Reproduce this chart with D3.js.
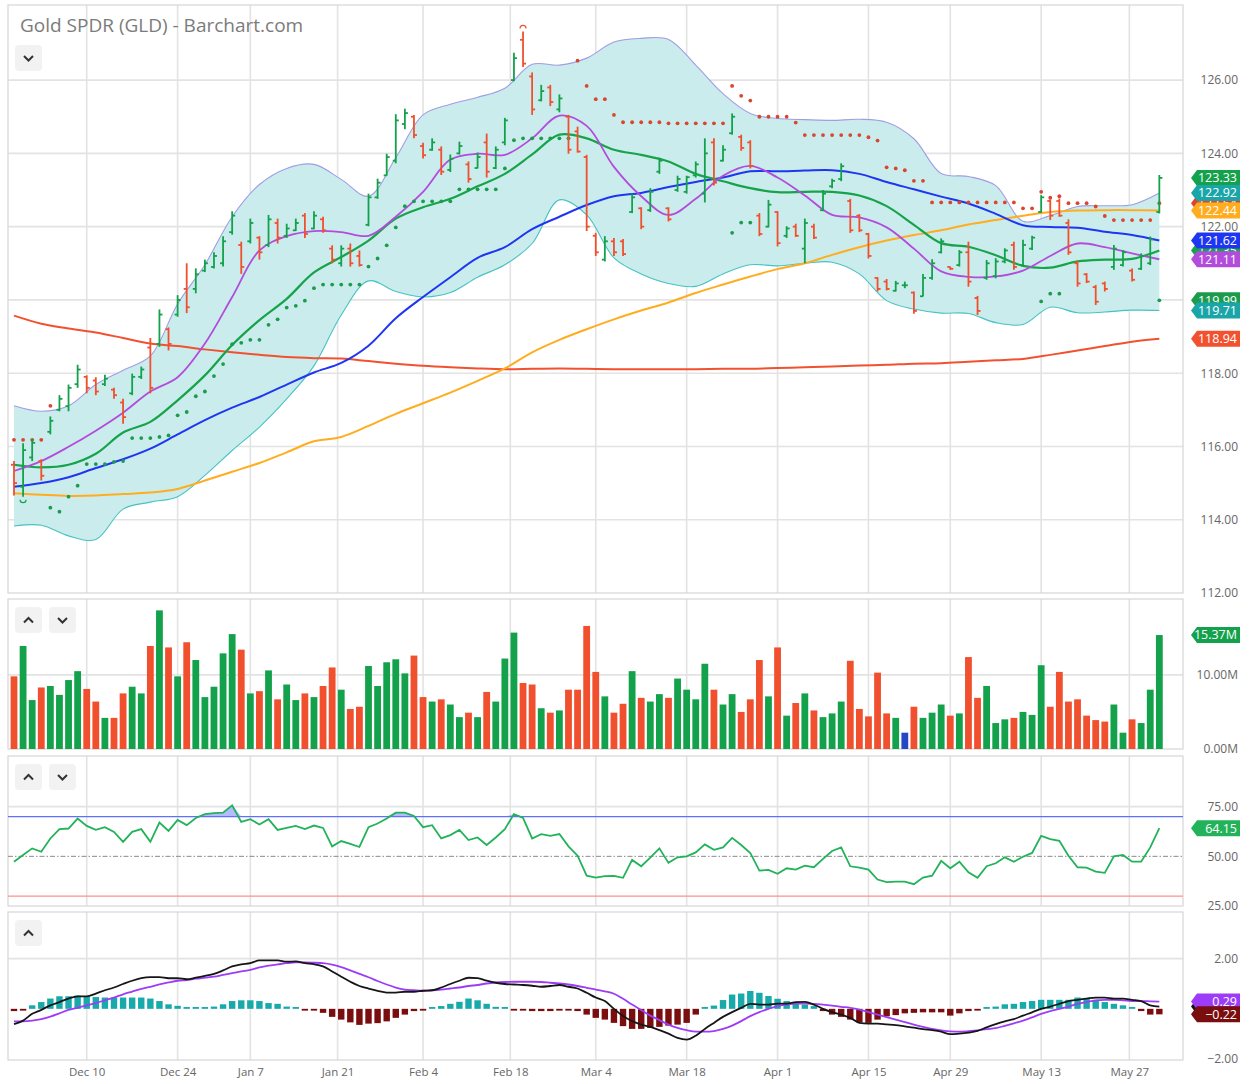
<!DOCTYPE html>
<html>
<head>
<meta charset="utf-8">
<script src="https://cdn.jsdelivr.net/npm/d3@7"></script>
<style>
  body { margin: 0; background: #fff; }
  svg { font-family: "Open Sans", "Noto Sans", sans-serif; }
</style>
</head>
<body>
<svg id="chart" width="1250" height="1084"></svg>
<script>

// ---------- DATA (one entry per trading day) ----------
const tickIdx    = [8, 18, 26, 35.6, 45, 54.6, 64, 74, 84, 94, 103, 113, 122.7];
const tickLabels = ['Dec 10','Dec 24','Jan 7','Jan 21','Feb 4','Feb 18','Mar 4','Mar 18','Apr 1','Apr 15','Apr 29','May 13','May 27'];

const opens = [115.50,114.90,115.70,115.60,116.40,117.00,117.10,117.70,117.90,117.80,
  117.70,117.55,117.20,117.45,117.90,118.70,118.80,119.20,119.60,120.30,
  120.30,120.80,120.90,121.00,121.85,121.50,121.60,121.70,121.50,122.10,
  121.75,121.90,122.30,121.95,122.20,121.40,121.00,121.40,121.20,122.05,
  122.80,123.40,123.80,124.80,125.00,124.20,124.10,124.10,123.55,124.00,
  123.70,123.60,124.30,123.60,124.30,126.00,127.10,126.10,125.45,125.80,
  125.20,125.00,124.60,123.90,121.75,121.10,121.60,121.60,122.40,122.50,
  122.45,123.50,122.50,123.00,122.95,123.40,122.90,124.30,123.80,124.55,
  124.45,124.30,122.30,122.00,122.40,121.75,122.00,121.40,122.00,122.45,
  123.10,123.30,122.70,122.30,121.80,120.60,120.50,120.25,120.40,120.20,
  120.10,120.60,121.30,120.90,120.95,121.30,120.05,120.60,120.65,121.05,
  121.50,120.95,121.40,122.40,122.70,122.70,122.10,121.00,120.70,120.35,
  120.45,120.90,120.95,120.80,120.85,121.00,122.40];
const highs = [115.60,116.09,116.20,115.65,116.82,117.40,117.69,118.23,117.94,117.89,
  117.96,117.60,117.30,117.99,118.18,118.96,119.74,119.25,120.13,121.00,
  120.86,121.10,121.30,121.74,122.42,121.59,122.22,121.74,122.32,122.22,
  122.08,122.22,122.37,122.42,122.27,121.49,121.49,121.54,121.35,122.90,
  123.31,123.99,125.07,125.22,125.05,124.29,124.41,124.19,123.97,124.32,
  123.78,124.02,124.54,124.19,124.97,126.75,127.33,126.21,125.87,125.87,
  125.61,125.05,124.73,123.96,121.83,121.74,121.69,121.66,122.90,122.53,
  123.05,123.88,122.53,123.39,123.39,123.78,124.41,124.41,124.22,125.09,
  124.51,124.36,122.37,122.73,122.42,122.01,122.08,122.22,122.08,123.00,
  123.31,123.73,122.76,122.34,121.83,120.62,120.57,120.52,120.50,120.23,
  120.71,121.11,121.68,120.91,121.36,121.59,120.11,121.09,121.14,121.41,
  121.59,121.64,121.75,122.86,122.75,122.77,122.20,121.07,120.73,120.41,
  120.50,121.50,121.36,120.86,121.27,121.73,123.41];
const lows = [114.66,114.63,115.60,115.07,116.33,116.96,116.96,117.60,117.45,117.40,
  117.65,117.30,116.62,117.40,117.84,117.45,118.72,118.62,119.54,119.64,
  120.18,120.76,120.86,120.91,121.78,120.71,121.54,121.10,121.44,121.54,
  121.69,121.88,121.69,121.93,121.83,121.00,120.91,120.91,120.91,122.01,
  122.76,123.39,123.73,124.66,124.41,123.86,124.07,123.41,123.49,123.97,
  123.20,123.59,123.34,123.57,124.22,125.97,126.36,125.05,125.42,125.29,
  125.12,123.99,124.02,121.88,121.20,121.05,121.20,121.20,122.37,121.93,
  122.40,123.44,122.14,122.95,122.90,123.34,122.66,123.12,123.78,124.51,
  124.07,123.59,121.74,121.98,121.46,121.69,121.72,121.00,121.66,122.42,
  123.05,123.24,121.83,121.85,121.13,120.23,120.26,120.23,120.32,119.62,
  120.09,120.55,121.27,120.82,120.91,120.36,119.59,120.55,120.59,121.00,
  120.82,120.91,121.36,122.38,122.18,122.27,121.23,120.36,120.46,119.86,
  120.23,120.82,120.91,120.50,120.82,120.95,122.36];
const closes = [115.00,115.90,116.10,115.20,116.70,117.30,117.60,118.10,117.60,117.50,
  117.85,117.40,116.80,117.90,118.10,117.60,119.60,118.80,120.00,119.80,
  120.70,121.00,121.20,121.60,122.30,120.90,122.10,121.30,122.20,121.70,
  121.95,122.10,121.80,122.30,121.90,121.10,121.40,121.00,120.95,122.80,
  123.20,123.90,124.90,125.10,124.50,123.95,124.30,123.50,123.85,124.20,
  123.30,123.90,123.50,124.10,124.90,126.60,126.45,125.20,125.70,125.40,
  125.50,124.10,124.05,122.00,121.30,121.60,121.30,121.25,122.80,122.00,
  122.95,123.80,122.20,123.30,123.35,123.70,124.00,123.20,124.10,125.00,
  124.15,123.65,121.80,122.60,121.55,121.95,121.75,122.10,121.70,122.90,
  123.25,123.65,121.90,121.90,121.20,120.30,120.30,120.45,120.40,119.70,
  120.60,121.00,121.60,120.85,121.30,120.50,119.70,121.00,121.05,121.35,
  120.90,121.50,121.70,122.80,122.30,122.30,121.30,120.45,120.50,119.95,
  120.30,121.40,121.30,120.55,121.20,121.65,123.33];

// volume, millions of shares
const volumes = [9.8,13.9,6.6,8.3,8.5,7.3,9.3,10.5,8.1,6.4,
  4.2,4.2,7.5,8.4,7.5,13.9,18.7,13.7,9.8,14.4,
  12.0,7.0,8.4,12.9,15.5,13.4,7.5,7.8,10.6,6.7,
  8.7,6.6,7.5,7.0,8.5,11.0,8.0,5.4,5.7,11.2,
  8.5,11.7,12.1,10.2,12.6,7.0,6.4,6.7,6.0,4.3,
  4.9,4.3,7.7,6.4,12.2,15.7,8.9,8.7,5.5,4.9,
  5.2,8.0,8.0,16.6,10.4,7.1,4.9,6.1,10.5,6.9,
  6.4,7.4,6.9,9.5,8.0,6.7,11.5,8.0,6.0,7.4,
  5.0,6.7,12.0,7.1,13.7,4.5,6.2,7.5,5.2,4.3,
  4.8,6.4,11.9,5.4,4.4,10.3,4.8,4.2,2.2,5.7,
  4.2,4.9,6.0,4.5,4.8,12.4,6.9,8.5,3.5,4.0,
  4.2,5.0,4.6,11.3,5.7,10.4,6.4,6.7,4.5,3.9,
  3.7,6.0,2.2,4.0,3.5,8.0,15.37];

const rsi = [47.3,50.7,54.0,52.3,59.0,63.7,64.0,69.0,65.3,63.3,
  64.7,62.3,57.3,62.3,63.7,57.3,67.0,62.8,68.3,65.7,
  69.3,71.2,71.7,72.0,75.7,67.3,68.7,66.0,68.7,63.3,
  64.3,65.3,63.7,65.5,64.3,55.0,57.7,56.3,54.7,64.7,
  66.5,69.0,72.0,72.0,70.3,64.7,65.7,59.0,60.7,63.3,
  58.2,59.5,55.7,59.5,63.7,71.3,69.3,59.0,61.2,60.3,
  61.2,55.0,50.3,40.3,39.3,40.0,40.2,39.2,48.2,45.0,
  49.3,54.0,46.7,49.5,50.0,52.0,56.0,53.3,54.5,59.3,
  55.7,51.7,42.8,43.2,41.2,44.0,43.3,45.3,44.5,48.7,
  52.7,54.5,45.0,44.3,43.3,38.3,37.0,37.3,37.3,36.0,
  39.3,40.3,47.7,44.0,47.3,42.0,39.2,45.0,46.5,49.5,
  47.3,49.8,51.7,60.3,58.7,57.8,50.3,44.5,44.3,42.3,
  41.7,50.0,50.7,47.3,47.3,54.5,64.15];

const macdLine = [-0.61,-0.47,-0.20,-0.04,0.14,0.27,0.41,0.50,0.50,0.61,
  0.74,0.85,0.99,1.12,1.22,1.26,1.26,1.22,1.22,1.18,
  1.24,1.31,1.39,1.53,1.69,1.77,1.82,1.93,1.93,1.93,
  1.88,1.89,1.82,1.78,1.69,1.49,1.28,1.08,0.91,0.81,
  0.72,0.65,0.65,0.68,0.68,0.72,0.74,0.85,0.99,1.12,
  1.24,1.22,1.12,1.04,0.99,0.97,0.95,0.92,0.88,0.91,
  0.95,0.88,0.81,0.64,0.45,0.31,0.00,-0.29,-0.49,-0.63,
  -0.72,-0.85,-0.99,-1.16,-1.23,-1.07,-0.80,-0.56,-0.32,-0.13,
  0.04,0.20,0.17,0.17,0.21,0.21,0.27,0.28,0.17,0.00,
  -0.13,-0.23,-0.36,-0.56,-0.59,-0.59,-0.62,-0.65,-0.70,-0.75,
  -0.81,-0.85,-0.91,-1.01,-0.99,-0.95,-0.88,-0.74,-0.61,-0.50,
  -0.41,-0.27,-0.14,0.00,0.09,0.20,0.31,0.36,0.41,0.45,
  0.45,0.41,0.41,0.36,0.31,0.14,0.09];
const signalLine = [-0.50,-0.50,-0.47,-0.41,-0.31,-0.18,-0.04,0.04,0.14,0.23,
  0.34,0.45,0.58,0.69,0.80,0.88,0.97,1.05,1.12,1.15,
  1.20,1.24,1.28,1.35,1.42,1.49,1.55,1.65,1.72,1.77,
  1.82,1.85,1.85,1.84,1.82,1.76,1.66,1.53,1.39,1.26,
  1.11,0.97,0.85,0.77,0.74,0.72,0.74,0.77,0.81,0.85,
  0.91,0.95,1.01,1.05,1.07,1.08,1.08,1.08,1.07,1.04,
  1.01,0.97,0.91,0.84,0.77,0.70,0.60,0.40,0.17,-0.05,
  -0.27,-0.45,-0.63,-0.76,-0.85,-0.91,-0.91,-0.89,-0.80,-0.67,
  -0.49,-0.29,-0.13,0.00,0.11,0.17,0.21,0.21,0.20,0.17,
  0.13,0.08,0.04,-0.03,-0.13,-0.23,-0.33,-0.43,-0.53,-0.63,
  -0.72,-0.80,-0.86,-0.90,-0.91,-0.89,-0.86,-0.81,-0.77,-0.68,
  -0.58,-0.47,-0.34,-0.20,-0.09,0.00,0.09,0.20,0.27,0.34,
  0.36,0.36,0.34,0.31,0.31,0.30,0.29];
const macdHist = [-0.09,-0.02,0.14,0.27,0.41,0.50,0.50,0.53,0.50,0.47,
  0.45,0.45,0.45,0.45,0.45,0.41,0.31,0.18,0.12,0.03,
  0.04,0.07,0.09,0.18,0.31,0.34,0.34,0.31,0.23,0.20,
  0.09,0.04,-0.05,-0.05,-0.16,-0.32,-0.43,-0.54,-0.64,-0.59,
  -0.57,-0.50,-0.36,-0.23,-0.09,-0.05,0.02,0.11,0.20,0.28,
  0.41,0.34,0.20,0.08,0.01,-0.05,-0.05,-0.09,-0.09,-0.09,
  -0.03,-0.05,-0.09,-0.23,-0.36,-0.43,-0.56,-0.69,-0.80,-0.80,
  -0.76,-0.72,-0.67,-0.63,-0.56,-0.23,0.04,0.13,0.35,0.57,
  0.61,0.71,0.64,0.51,0.40,0.31,0.24,0.17,0.11,-0.09,
  -0.23,-0.32,-0.43,-0.53,-0.56,-0.43,-0.30,-0.25,-0.18,-0.16,
  -0.14,-0.14,-0.14,-0.27,-0.18,-0.09,-0.02,0.07,0.09,0.18,
  0.20,0.27,0.31,0.36,0.36,0.36,0.36,0.45,0.41,0.36,
  0.27,0.20,0.14,0.07,-0.09,-0.23,-0.22];

// overlay studies, read every 3rd day (day 0, 3, 6 ... 126)
const studyDays = d3.range(0, 127, 3);
const ma9 = [115.33,115.60,115.99,116.43,116.92,117.50,117.89,118.81,120.08,121.35,
  121.74,121.88,121.85,121.75,122.27,122.95,123.83,123.99,123.96,124.41,
  125.03,124.75,123.63,122.83,122.32,122.76,123.39,123.66,123.34,122.85,
  122.32,122.25,121.98,121.40,120.78,120.63,120.64,120.80,121.20,121.54,
  121.44,121.27,121.11];
const ma20 = [115.50,115.43,115.50,115.80,116.38,116.67,117.26,117.94,118.77,119.45,
  120.03,120.75,121.17,121.62,122.22,122.53,122.76,123.10,123.44,123.97,
  124.51,124.41,124.10,123.96,123.78,123.44,123.24,123.05,122.94,122.95,
  122.95,122.85,122.56,122.05,121.55,121.45,121.22,120.93,120.88,121.05,
  121.10,121.12,121.35];
const ma50 = [114.90,115.00,115.16,115.41,115.65,115.94,116.33,116.72,117.06,117.35,
  117.69,118.02,118.28,118.75,119.50,120.08,120.62,121.15,121.44,121.93,
  122.27,122.59,122.83,122.92,123.08,123.22,123.34,123.51,123.51,123.53,
  123.54,123.44,123.22,123.02,122.82,122.63,122.35,122.04,121.99,121.97,
  121.86,121.77,121.62];
const ma100 = [114.72,114.68,114.65,114.66,114.70,114.74,114.84,115.07,115.31,115.55,
  115.84,116.14,116.26,116.56,116.89,117.18,117.47,117.79,118.13,118.57,
  118.91,119.20,119.47,119.71,119.93,120.19,120.42,120.64,120.84,121.00,
  121.23,121.44,121.62,121.77,121.90,122.06,122.18,122.30,122.40,122.44,
  122.45,122.45,122.44];
const ma200 = [119.57,119.35,119.22,119.11,118.96,118.81,118.74,118.65,118.57,118.50,
  118.44,118.41,118.40,118.33,118.26,118.20,118.16,118.13,118.11,118.12,
  118.13,118.12,118.11,118.11,118.11,118.11,118.12,118.12,118.14,118.16,
  118.18,118.21,118.23,118.26,118.27,118.31,118.35,118.39,118.50,118.62,
  118.74,118.86,118.94];
const bbUpper = [117.11,116.96,117.11,117.69,118.08,118.47,119.89,120.96,122.27,123.15,
  123.59,123.70,123.29,122.83,123.88,125.05,125.34,125.53,125.78,126.43,
  126.41,126.60,127.04,127.14,127.11,126.41,125.63,125.09,124.95,124.92,
  124.90,124.93,124.85,124.40,123.45,123.37,123.12,122.15,122.30,122.55,
  122.57,122.60,122.92];
const bbLower = [113.83,113.85,113.56,113.46,114.29,114.48,114.63,115.21,115.89,116.53,
  117.30,118.20,119.59,120.52,120.23,120.08,120.20,120.62,120.96,121.54,
  122.73,122.32,121.15,120.71,120.45,120.37,120.71,120.96,120.93,121.00,
  121.03,120.71,119.98,119.75,119.64,119.63,119.38,119.33,119.80,119.65,
  119.67,119.72,119.71];

// parabolic SAR dots as [day, value]
const sarBelow = [[4,114.33],[5,114.22],[6,114.63],[7,114.93],[8,115.52],[9,115.52],[10,115.52],[11,115.58],[12,115.60],
  [13,116.23],[14,116.23],[15,116.23],[16,116.26],[17,116.30],[18,116.85],[19,116.94],[20,117.37],[21,117.50],
  [22,117.92],[23,118.25],[24,118.79],[25,118.83],[26,118.91],[27,118.91],[28,119.32],[29,119.47],[30,119.79],
  [31,119.84],[32,119.98],[33,120.32],[34,120.42],[35,120.42],[36,120.42],[37,120.42],[38,120.42],[39,120.91],
  [40,121.13],[41,121.49],[42,121.98],[43,122.56],[44,122.69],[45,122.69],[46,122.69],[47,122.69],[48,122.69],
  [49,123.02],[50,123.02],[51,123.02],[52,123.02],[53,123.02],[54,123.59],[55,124.36],[56,124.41],[57,124.41],
  [58,124.41],[59,124.41],[60,124.41],[61,124.41],[79,121.83],[80,122.11],[81,122.11],
  [113,119.96],[114,120.17],[115,120.17],[126,119.99]];
const sarAbove = [[0,116.18],[1,116.18],[2,116.18],[3,116.18],[4,117.11],
  [62,126.53],[63,125.84],[64,125.48],[65,125.48],[66,125.05],[67,124.85],[68,124.85],[69,124.85],[70,124.85],
  [71,124.85],[72,124.82],[73,124.82],[74,124.82],[75,124.82],[76,124.82],[77,124.82],[78,124.82],
  [79,125.84],[80,125.57],[81,125.44],[82,125.00],[83,125.00],[84,125.00],[85,125.00],[86,124.84],
  [87,124.50],[88,124.50],[89,124.50],[90,124.50],[91,124.50],[92,124.50],[93,124.50],[94,124.44],[95,124.35],
  [96,123.62],[97,123.59],[98,123.54],[99,123.25],[100,123.25],[101,122.66],[102,122.66],[103,122.66],
  [104,122.66],[105,122.66],[106,122.66],[107,122.66],[108,122.66],[109,122.66],[110,122.66],[111,122.50],
  [112,122.50],[113,122.95],[114,122.79],[115,122.83],[116,122.64],[117,122.64],[118,122.64],[119,122.55],
  [120,122.29],[121,122.18],[122,122.18],[123,122.18],[124,122.18],[125,122.18],[126,122.64]];

// ---------- LAYOUT ----------
const svg = d3.select('#chart');
const plotLeft = 8, plotRight = 1183, axisX = 1238;
const panels = {
  price: { top: 5,   bottom: 593 },
  vol:   { top: 599, bottom: 749 },
  rsi:   { top: 756, bottom: 906 },
  macd:  { top: 912, bottom: 1060 }
};

const C = {
  up: '#13a14b', down: '#f0502d', flat: '#2547c5',
  grid: '#e3e3e3', frame: '#d6d6d6', axisText: '#666',
  ma9: '#b24cdc', ma20: '#16a34a', ma50: '#1e36f2', ma100: '#ffad1f', ma200: '#f2512f',
  bbFill: '#cbecec', bbUp: '#a19de4', bbLo: '#47c2c4',
  sarUp: '#1b9c4d', sarDn: '#d8462f',
  rsi: '#22b25a', ob: '#5f6ffe', os: '#ff8f8f', obFill: '#a7afff',
  macd: '#161616', signal: '#9d3cf8', histUp: '#18a9aa', histDn: '#7a0d0d'
};

const x = d3.scaleLinear().domain([0, 126]).range([14, 14 + 126 * 9.09]);
const y = d3.scaleLinear().domain([112, 128.05]).range([panels.price.bottom, panels.price.top]);
const yV = d3.scaleLinear().domain([0, 20.3]).range([749, 598.5]);
const yR = d3.scaleLinear().domain([25, 100]).range([906, 757]);
const yM = d3.scaleLinear().domain([-2, 3.9]).range([1059, 911]);

// price bars: close below open is red, otherwise green; volume marks an unchanged day in blue
const barColor = i => closes[i] < opens[i] ? C.down : C.up;
const volColor = i => closes[i] > opens[i] ? C.up : closes[i] < opens[i] ? C.down : C.flat;
const days = d3.range(opens.length);

// clip paths per panel
const defs = svg.append('defs');
Object.entries(panels).forEach(([k, p]) => {
  defs.append('clipPath').attr('id', 'clip-' + k)
    .append('rect').attr('x', plotLeft).attr('y', p.top)
    .attr('width', plotRight - plotLeft).attr('height', p.bottom - p.top);
});

// ======================= GRID & FRAMES =======================
function panelGrid(p, yScale, yTicks) {
  const g = svg.append('g');
  g.selectAll('line.v').data(tickIdx).enter().append('line')
    .attr('x1', d => x(d)).attr('x2', d => x(d))
    .attr('y1', p.top).attr('y2', p.bottom)
    .attr('stroke', C.grid).attr('stroke-width', 1.6);
  g.selectAll('line.h').data(yTicks).enter().append('line')
    .attr('x1', plotLeft).attr('x2', plotRight)
    .attr('y1', d => yScale(d)).attr('y2', d => yScale(d))
    .attr('stroke', C.grid).attr('stroke-width', 1.6);
  g.append('rect').attr('x', plotLeft).attr('y', p.top)
    .attr('width', plotRight - plotLeft).attr('height', p.bottom - p.top)
    .attr('fill', 'none').attr('stroke', C.frame).attr('stroke-width', 1.2);
}
panelGrid(panels.price, y, [114, 116, 118, 120, 122, 124, 126]);
panelGrid(panels.vol, yV, [10]);
panelGrid(panels.rsi, yR, [75]);
panelGrid(panels.macd, yM, [2]);

// ======================= PRICE PANEL =======================
const pg = svg.append('g').attr('clip-path', 'url(#clip-price)');
const study = studyDays.map((d, k) => ({ d, k }));

pg.append('path').datum(study)
  .attr('d', d3.area().curve(d3.curveCatmullRom)
    .x(s => x(s.d)).y0(s => y(bbLower[s.k])).y1(s => y(bbUpper[s.k])))
  .attr('fill', C.bbFill);

function studyLine(values, color, width) {
  pg.append('path').datum(study)
    .attr('d', d3.line().curve(d3.curveCatmullRom).x(s => x(s.d)).y(s => y(values[s.k])))
    .attr('fill', 'none').attr('stroke', color).attr('stroke-width', width);
}
studyLine(bbUpper, C.bbUp, 1.1);
studyLine(bbLower, C.bbLo, 1.1);
studyLine(ma200, C.ma200, 2);
studyLine(ma100, C.ma100, 2);
studyLine(ma50, C.ma50, 2);
studyLine(ma20, C.ma20, 2.2);
studyLine(ma9, C.ma9, 1.8);

pg.selectAll('circle.sarU').data(sarBelow).enter().append('circle')
  .attr('cx', d => x(d[0])).attr('cy', d => y(d[1])).attr('r', 1.9).attr('fill', C.sarUp);
pg.selectAll('circle.sarD').data(sarAbove).enter().append('circle')
  .attr('cx', d => x(d[0])).attr('cy', d => y(d[1])).attr('r', 1.9).attr('fill', C.sarDn);

// OHLC bars
const ohlc = pg.selectAll('g.bar').data(days).enter().append('g')
  .attr('stroke', i => barColor(i)).attr('stroke-width', 1.8);
ohlc.append('line').attr('x1', i => x(i)).attr('x2', i => x(i))
  .attr('y1', i => y(highs[i])).attr('y2', i => y(lows[i]));
ohlc.append('line').attr('x1', i => x(i) - 3).attr('x2', i => x(i))
  .attr('y1', i => y(opens[i])).attr('y2', i => y(opens[i]));
ohlc.append('line').attr('x1', i => x(i)).attr('x2', i => x(i) + 3)
  .attr('y1', i => y(closes[i])).attr('y2', i => y(closes[i]));

// highest high / lowest low markers
const hiDay = d3.maxIndex(highs), loDay = d3.minIndex(lows);
pg.append('path')
  .attr('d', `M${x(hiDay) - 3},${y(highs[hiDay]) - 3} A3,3 0 0 1 ${x(hiDay) + 3},${y(highs[hiDay]) - 3}`)
  .attr('fill', 'none').attr('stroke', barColor(hiDay)).attr('stroke-width', 1.2);
pg.append('path')
  .attr('d', `M${x(loDay) - 3},${y(lows[loDay]) + 3} A3,3 0 0 0 ${x(loDay) + 3},${y(lows[loDay]) + 3}`)
  .attr('fill', 'none').attr('stroke', barColor(loDay)).attr('stroke-width', 1.2);

// ======================= VOLUME PANEL =======================
svg.append('g').attr('clip-path', 'url(#clip-vol)')
  .selectAll('rect').data(days).enter().append('rect')
  .attr('x', i => x(i) - 3.4).attr('width', 6.8)
  .attr('y', i => yV(volumes[i])).attr('height', i => yV(0) - yV(volumes[i]))
  .attr('fill', i => volColor(i));

// ======================= RSI PANEL =======================
const rg = svg.append('g').attr('clip-path', 'url(#clip-rsi)');
rg.append('path').datum(days)
  .attr('d', d3.area().x(i => x(i)).y0(yR(70)).y1(i => yR(Math.max(rsi[i], 70))))
  .attr('fill', C.obFill).attr('opacity', 0.85);
rg.append('line').attr('x1', plotLeft).attr('x2', plotRight).attr('y1', yR(70)).attr('y2', yR(70))
  .attr('stroke', C.ob).attr('stroke-width', 1.3);
rg.append('line').attr('x1', plotLeft).attr('x2', plotRight).attr('y1', yR(30)).attr('y2', yR(30))
  .attr('stroke', C.os).attr('stroke-width', 1.3);
rg.append('line').attr('x1', plotLeft).attr('x2', plotRight).attr('y1', yR(50)).attr('y2', yR(50))
  .attr('stroke', '#8a8a8a').attr('stroke-width', 1).attr('stroke-dasharray', '5,2,1.5,2');
rg.append('path').datum(days)
  .attr('d', d3.line().x(i => x(i)).y(i => yR(rsi[i])))
  .attr('fill', 'none').attr('stroke', C.rsi).attr('stroke-width', 1.8);

// ======================= MACD PANEL =======================
const mg = svg.append('g').attr('clip-path', 'url(#clip-macd)');
mg.selectAll('rect').data(days).enter().append('rect')
  .attr('x', i => x(i) - 3.2).attr('width', 6.4)
  .attr('y', i => macdHist[i] >= 0 ? Math.min(yM(macdHist[i]), yM(0) - 1.8) : yM(0))
  .attr('height', i => Math.max(Math.abs(yM(macdHist[i]) - yM(0)), 1.8))
  .attr('fill', i => macdHist[i] >= 0 ? C.histUp : C.histDn);
mg.append('path').datum(days)
  .attr('d', d3.line().curve(d3.curveMonotoneX).x(i => x(i)).y(i => yM(signalLine[i])))
  .attr('fill', 'none').attr('stroke', C.signal).attr('stroke-width', 1.8);
mg.append('path').datum(days)
  .attr('d', d3.line().curve(d3.curveMonotoneX).x(i => x(i)).y(i => yM(macdLine[i])))
  .attr('fill', 'none').attr('stroke', C.macd).attr('stroke-width', 1.8);

// ======================= AXES =======================
function rightAxis(scale, ticks, fmt) {
  const g = svg.append('g').attr('transform', `translate(${axisX},0)`)
    .call(d3.axisLeft(scale).tickValues(ticks).tickSize(0).tickPadding(0).tickFormat(fmt));
  g.select('.domain').remove();
  g.selectAll('text').attr('fill', C.axisText).style('font-size', '12px')
    .style('font-family', '"Open Sans", sans-serif');
}
rightAxis(y, [112, 114, 116, 118, 120, 122, 124, 126], d3.format('.2f'));
rightAxis(yV, [0, 10], d => d3.format('.2f')(d) + 'M');
rightAxis(yR, [25, 50, 75], d3.format('.2f'));
rightAxis(yM, [-2, 2], d3.format('.2f'));

const xAxis = svg.append('g').attr('transform', `translate(0,${panels.macd.bottom})`)
  .call(d3.axisBottom(x).tickValues(tickIdx).tickSize(0).tickPadding(8)
    .tickFormat((d, i) => tickLabels[i]));
xAxis.select('.domain').remove();
xAxis.selectAll('text').attr('fill', C.axisText).style('font-size', '11.5px')
  .style('font-family', '"Open Sans", sans-serif');

// ======================= LAST-VALUE TAGS =======================
// stacked like the original: later tags sit on top of earlier ones
const last = a => a[a.length - 1];
function tag(value, scale, label, bg) {
  const g = svg.append('g').attr('transform', `translate(1191,${scale(value)})`);
  g.append('path').attr('d', 'M0,0 L6,-8 L49,-8 L49,8 L6,8 Z').attr('fill', bg);
  g.append('text').attr('x', 46).attr('y', 4.3).attr('text-anchor', 'end')
    .attr('fill', '#fff').style('font-size', '12.5px').text(label);
}
const f2 = d3.format('.2f');
[
  [last(sarAbove)[1], C.sarDn],
  [last(sarBelow)[1], C.sarUp],
  [last(ma20), C.ma20],
  [last(closes), C.up],
  [last(bbUpper), '#1aa6a8'],
  [last(ma100), C.ma100],
  [last(ma50), C.ma50],
  [last(ma9), C.ma9],
  [last(bbLower), '#1aa6a8'],
  [last(ma200), C.ma200]
].forEach(([v, c]) => tag(v, y, f2(v), c));

tag(last(volumes), yV, f2(last(volumes)) + 'M', C.up);
tag(last(rsi), yR, f2(last(rsi)), C.rsi);
tag(last(macdLine), yM, f2(last(macdLine)), C.macd);
tag(last(signalLine), yM, f2(last(signalLine)), C.signal);
tag(last(macdHist), yM, f2(last(macdHist)), C.histDn);

// ======================= TITLE & BUTTONS =======================
svg.append('text').attr('x', 20).attr('y', 32)
  .attr('fill', '#7b7b7b').style('font-size', '19px')
  .text('Gold SPDR (GLD) - Barchart.com');

function button(bx, by, dir) {
  const g = svg.append('g').attr('transform', `translate(${bx},${by})`);
  g.append('rect').attr('width', 27).attr('height', 26).attr('rx', 4).attr('fill', '#f2f2f2');
  const pts = dir === 'up' ? [[9, 15.5], [13.5, 11], [18, 15.5]] : [[9, 11], [13.5, 15.5], [18, 11]];
  g.append('path').attr('d', d3.line()(pts)).attr('fill', 'none')
    .attr('stroke', '#333').attr('stroke-width', 2);
}
button(15, 45, 'down');
button(15, 607, 'up');  button(49, 607, 'down');
button(15, 764, 'up');  button(49, 764, 'down');
button(15, 920, 'up');

</script>
</body>
</html>
